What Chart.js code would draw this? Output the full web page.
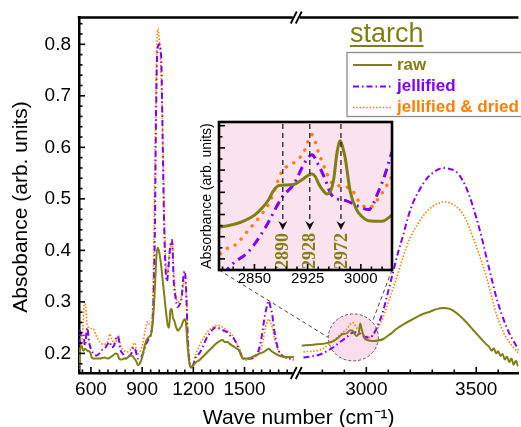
<!DOCTYPE html>
<html><head><meta charset="utf-8">
<script src="https://cdn.jsdelivr.net/npm/chart.js@4.4.0/dist/chart.umd.min.js"></script>
<style>
html,body{margin:0;padding:0;background:#fff;overflow:hidden;}
#wrap{position:relative;width:521px;height:427px;}
#main{position:absolute;left:0;top:0;}
#inset{position:absolute;left:180px;top:110px;}
</style></head><body>
<div id="wrap"><canvas id="main" width="521" height="427"></canvas><canvas id="inset" width="225" height="185"></canvas></div>
<script>
// ---------------- DATA ----------------
const seriesNames = ['raw', 'jellified', 'jellified & dried'];
const legendTitle = 'starch';
const yAxisTitle = 'Absobance (arb. units)';
const xAxisTitle = 'Wave number (cm\u207B\u00B9)';
const insetYAxisTitle = 'Absorbance (arb. units)';

// tick labels
const xLowTickLabels = [600, 900, 1200, 1500];
const xHighTickLabels = [3000, 3500];
const yTickLabels = [0.2, 0.3, 0.4, 0.5, 0.6, 0.7, 0.8];
const insetTickLabels = [2850, 2925, 3000];

// raw, 530-1800 cm-1
const rawLowWave = [530,535,545,555,565,580,594,605,613,630,652,680,700,715,729,745,755,765,778,795,808,825,837,850,865,875,885,895,905,915,924,940,953,965,975,983,990,998,1008,1018,1028,1040,1050,1058,1066,1073,1080,1090,1100,1110,1120,1130,1140,1150,1158,1165,1175,1185,1195,1215,1235,1260,1293,1315,1332,1350,1371,1385,1400,1415,1429,1450,1468,1480,1490,1510,1526,1545,1565,1590,1613,1630,1643,1655,1672,1695,1720,1750,1789];
const rawLowAbs = [0.175,0.205,0.215,0.205,0.209,0.205,0.203,0.192,0.19,0.19,0.19,0.192,0.19,0.193,0.196,0.2,0.199,0.19,0.188,0.19,0.19,0.195,0.196,0.192,0.185,0.177,0.18,0.187,0.2,0.215,0.225,0.232,0.238,0.27,0.33,0.385,0.405,0.40,0.38,0.35,0.318,0.28,0.255,0.25,0.285,0.286,0.27,0.262,0.25,0.244,0.248,0.253,0.262,0.267,0.255,0.22,0.185,0.172,0.175,0.183,0.187,0.195,0.206,0.213,0.219,0.223,0.226,0.222,0.222,0.218,0.215,0.21,0.206,0.196,0.19,0.19,0.19,0.193,0.196,0.2,0.203,0.207,0.209,0.205,0.201,0.197,0.194,0.193,0.193];

// jellified, 530-1800 cm-1
const jelLowWave = [530,536,545,555,565,578,590,604,618,633,650,662,680,700,711,720,735,745,759,770,788,808,825,837,850,862,875,890,904,920,933,950,960,967,975,980,985,990,1000,1008,1013,1020,1027,1035,1045,1055,1065,1075,1085,1095,1108,1120,1132,1142,1150,1158,1166,1175,1188,1200,1215,1235,1254,1275,1293,1315,1332,1350,1361,1380,1400,1420,1439,1455,1468,1483,1497,1520,1536,1555,1574,1590,1603,1615,1627,1642,1652,1662,1672,1681,1695,1710,1735,1759,1789];
const jelLowAbs = [0.19,0.244,0.235,0.238,0.215,0.25,0.22,0.206,0.198,0.196,0.2,0.206,0.209,0.219,0.222,0.212,0.215,0.228,0.233,0.21,0.199,0.19,0.195,0.2,0.212,0.205,0.19,0.192,0.199,0.215,0.225,0.235,0.26,0.31,0.45,0.62,0.74,0.79,0.80,0.79,0.76,0.62,0.48,0.38,0.34,0.37,0.41,0.42,0.34,0.31,0.29,0.295,0.31,0.35,0.36,0.32,0.24,0.19,0.175,0.178,0.193,0.2,0.212,0.228,0.238,0.247,0.251,0.249,0.247,0.244,0.241,0.233,0.228,0.218,0.206,0.196,0.19,0.19,0.19,0.193,0.199,0.215,0.238,0.265,0.286,0.302,0.29,0.276,0.25,0.231,0.21,0.199,0.193,0.19,0.19];

// jellified & dried, 530-1800 cm-1
const dryLowWave = [530,537,545,553,562,570,578,590,605,613,630,652,670,691,700,711,722,740,750,759,768,778,795,817,835,850,858,866,876,890,904,918,933,945,953,960,970,977,985,992,1000,1008,1015,1022,1030,1038,1048,1055,1065,1075,1085,1095,1108,1120,1135,1145,1152,1160,1168,1178,1190,1200,1215,1240,1274,1300,1332,1350,1371,1400,1429,1450,1468,1483,1497,1520,1545,1570,1594,1610,1623,1635,1642,1650,1662,1675,1691,1710,1730,1760,1789];
const dryLowAbs = [0.17,0.21,0.22,0.25,0.30,0.29,0.255,0.25,0.248,0.248,0.235,0.222,0.218,0.219,0.225,0.238,0.228,0.219,0.226,0.235,0.225,0.212,0.205,0.203,0.208,0.219,0.22,0.208,0.2,0.205,0.219,0.245,0.262,0.255,0.255,0.28,0.45,0.62,0.78,0.83,0.81,0.77,0.70,0.60,0.47,0.38,0.35,0.38,0.40,0.42,0.36,0.32,0.30,0.30,0.32,0.34,0.34,0.30,0.23,0.185,0.175,0.18,0.199,0.218,0.238,0.247,0.254,0.254,0.251,0.244,0.235,0.222,0.212,0.198,0.187,0.188,0.19,0.196,0.206,0.228,0.251,0.263,0.267,0.262,0.251,0.23,0.212,0.2,0.193,0.19,0.187];

// raw, 2700-3700 cm-1
const rawHighWave = [2706,2760,2820,2850,2865,2890,2910,2928,2940,2955,2965,2972,2980,2990,3005,3032,3055,3077,3110,3138,3175,3214,3250,3289,3320,3350,3375,3395,3425,3456,3487,3517,3545,3560,3570,3580,3590,3600,3610,3620,3630,3640,3650,3660,3670,3680,3690];
const rawHighAbs = [0.215,0.217,0.22,0.224,0.228,0.237,0.239,0.245,0.243,0.234,0.238,0.258,0.245,0.231,0.226,0.224,0.225,0.228,0.238,0.248,0.258,0.267,0.275,0.281,0.286,0.288,0.287,0.283,0.273,0.26,0.245,0.231,0.218,0.212,0.205,0.21,0.2,0.204,0.195,0.199,0.188,0.194,0.183,0.19,0.178,0.186,0.175];

// jellified, 2700-3700 cm-1
const jelHighWave = [2714,2790,2850,2880,2910,2935,2950,2972,2995,3017,3040,3055,3075,3092,3123,3145,3168,3190,3214,3245,3274,3310,3350,3380,3411,3435,3456,3480,3501,3525,3547,3570,3592,3615,3638,3655,3668,3694];
const jelHighAbs = [0.192,0.198,0.212,0.222,0.231,0.24,0.241,0.238,0.232,0.231,0.243,0.257,0.28,0.308,0.36,0.397,0.43,0.465,0.494,0.52,0.539,0.553,0.56,0.558,0.552,0.538,0.52,0.492,0.462,0.425,0.385,0.345,0.308,0.277,0.251,0.235,0.225,0.206];

// jellified & dried, 2700-3700 cm-1
const dryHighWave = [2714,2790,2850,2880,2910,2938,2955,2971,2995,3017,3040,3055,3075,3092,3115,3138,3168,3199,3235,3274,3315,3358,3395,3426,3455,3486,3515,3547,3570,3592,3610,3630,3650,3668,3694];
const dryHighAbs = [0.203,0.207,0.225,0.236,0.247,0.26,0.25,0.241,0.234,0.231,0.24,0.251,0.268,0.289,0.318,0.347,0.388,0.424,0.452,0.475,0.489,0.494,0.489,0.478,0.458,0.424,0.39,0.347,0.31,0.276,0.255,0.235,0.222,0.212,0.2];

// inset (2800-3044 cm-1, arbitrary units 0-1)
const insetRawWave = [2800,2823,2837,2851,2861,2870,2876,2884,2893,2905,2917,2926,2931,2936,2940,2947,2952,2957,2962,2966,2971,2975,2978,2985,2994,3002,3011,3030,3044];
const insetRawAbs = [0.289,0.311,0.335,0.374,0.42,0.475,0.53,0.57,0.575,0.577,0.61,0.64,0.649,0.63,0.588,0.535,0.514,0.53,0.62,0.779,0.874,0.82,0.757,0.532,0.408,0.36,0.333,0.329,0.37];
const insetJelWave = [2806,2818,2842,2865,2889,2905,2922,2931,2940,2950,2957,2964,2978,2988,2997,3011,3025,3034,3044];
const insetJelAbs = [-0.03,0.036,0.126,0.284,0.491,0.577,0.734,0.779,0.712,0.61,0.52,0.486,0.47,0.45,0.43,0.408,0.532,0.644,0.80];
const insetDryWave = [2802,2808,2823,2842,2856,2872,2889,2905,2919,2931,2940,2950,2959,2973,2987,2999,3011,3030,3044];
const insetDryAbs = [0.11,0.137,0.17,0.272,0.351,0.464,0.667,0.723,0.79,0.914,0.80,0.678,0.588,0.566,0.543,0.453,0.42,0.52,0.633];

// band markers in the inset
const insetMarkWave = [2890, 2928, 2972];
const insetMarkLabels = ['2890', '2928', '2972'];
const insetArrowTip = 0.27;

// magnifier lens (main plot, data coords)
const lensWave = 2941;
const lensAbs = 0.231;

// ---------------- STYLE ----------------
const FONT = "'Liberation Sans', Arial, Helvetica, sans-serif";
const SERIF = "'Liberation Serif', 'Times New Roman', serif";
const OLIVE = '#7f7f14', PURPLE = '#8000ff', ORANGE = '#ff8000';
Chart.defaults.font.family = FONT;
Chart.defaults.color = '#000';

function pts(xs, ys) { return xs.map((x, i) => ({x: x, y: ys[i]})); }
function makeTicks(min, max, step) {
  const out = [];
  for (let k = Math.ceil(min / step - 1e-9); k * step <= max + 1e-9; k++) out.push({value: +(k * step).toFixed(6)});
  return out;
}
function isTenth(v) { return Math.abs(v * 10 - Math.round(v * 10)) < 1e-6; }

function drawInwardTicks(chart, specs) {
  const ctx = chart.ctx;
  ctx.save();
  ctx.strokeStyle = '#000';
  ctx.setLineDash([]);
  for (const id in specs) {
    const spec = specs[id], sc = chart.scales[id];
    sc.ticks.forEach((t, i) => {
      const len = spec.isMajor(t.value, i) ? spec.major : spec.minor;
      const p = sc.getPixelForValue(t.value);
      ctx.lineWidth = spec.width;
      ctx.beginPath();
      if (sc.isHorizontal()) {
        if (p < sc.left - 0.5 || p > sc.right + 0.5) return;
        ctx.moveTo(p, sc.top); ctx.lineTo(p, sc.top - len);
      } else {
        ctx.moveTo(sc.right, p); ctx.lineTo(sc.right + len, p);
      }
      ctx.stroke();
    });
  }
  ctx.restore();
}

// ---------------- INSET ----------------
const insetDecor = {
  id: 'insetDecor',
  beforeDatasetsDraw(chart) {
    const {ctx, chartArea: a} = chart;
    ctx.save();
    ctx.fillStyle = '#fbe2ef';
    ctx.fillRect(a.left, a.top, a.right - a.left, a.bottom - a.top);
    ctx.restore();
  },
  afterDatasetsDraw(chart) {
    const {ctx, chartArea: a} = chart;
    const xs = chart.scales.x, ys = chart.scales.y;
    const tip = ys.getPixelForValue(insetArrowTip);
    insetMarkWave.forEach((w, i) => {
      const x = xs.getPixelForValue(w);
      ctx.save();
      ctx.strokeStyle = '#222'; ctx.lineWidth = 1.3; ctx.setLineDash([5, 4]);
      ctx.beginPath(); ctx.moveTo(x, a.top + 2); ctx.lineTo(x, tip - 7); ctx.stroke();
      ctx.setLineDash([]);
      ctx.fillStyle = '#111';
      ctx.beginPath(); ctx.moveTo(x - 4.5, tip - 9); ctx.lineTo(x, tip - 6); ctx.lineTo(x + 4.5, tip - 9); ctx.lineTo(x, tip); ctx.closePath(); ctx.fill();
      ctx.font = 'bold 18px ' + SERIF;
      const tw = ctx.measureText(insetMarkLabels[i]).width;
      ctx.translate(x + 1, tip + 3 + tw / 2);
      ctx.rotate(-Math.PI / 2);
      ctx.textAlign = 'center'; ctx.textBaseline = 'middle';
      ctx.fillStyle = OLIVE;
      ctx.fillText(insetMarkLabels[i], 0, 0);
      ctx.restore();
    });
  },
  afterDraw(chart) {
    const {ctx, chartArea: a} = chart;
    drawInwardTicks(chart, {
      x: {isMajor: v => insetTickLabels.includes(v), major: 6, minor: 3.5, width: 1.6},
      y: {isMajor: (v, i) => i % 2 === 0, major: 6, minor: 3.5, width: 1.6}
    });
    ctx.save();
    ctx.strokeStyle = '#000'; ctx.lineWidth = 2.6;
    ctx.strokeRect(a.left, a.top, a.right - a.left, a.bottom - a.top);
    ctx.restore();
  }
};

const insetChart = new Chart(document.getElementById('inset'), {
  type: 'line',
  data: {datasets: [
    {label: seriesNames[0], data: pts(insetRawWave, insetRawAbs), borderColor: OLIVE, borderWidth: 3, pointRadius: 0, cubicInterpolationMode: 'monotone', clip: 0},
    {label: seriesNames[1], data: pts(insetJelWave, insetJelAbs), borderColor: PURPLE, borderWidth: 3, borderDash: [9, 5, 2, 5], pointRadius: 0, cubicInterpolationMode: 'monotone', clip: 0},
    {label: seriesNames[2], data: pts(insetDryWave, insetDryAbs), borderColor: ORANGE, borderWidth: 3.4, borderDash: [0.1, 8.5], borderCapStyle: 'round', pointRadius: 0, cubicInterpolationMode: 'monotone', clip: 0}
  ]},
  options: {
    responsive: false, animation: false, devicePixelRatio: 1,
    layout: {padding: {top: 12, right: 13, left: 0, bottom: 0}},
    plugins: {legend: {display: false}, tooltip: {enabled: false}},
    scales: {
      x: {type: 'linear', min: 2800, max: 3044,
        grid: {display: false, drawTicks: false}, border: {display: false},
        afterBuildTicks: s => { s.ticks = makeTicks(2801, 3043, 15); },
        afterFit: s => { s.height = 25; },
        ticks: {autoSkip: false, maxRotation: 0, minRotation: 0, padding: 1.5, color: '#000',
          font: {family: FONT, size: 15, lineHeight: 1},
          callback: v => insetTickLabels.includes(v) ? String(v) : ''}},
      y: {type: 'linear', min: 0, max: 1,
        grid: {display: false, drawTicks: false}, border: {display: false},
        afterBuildTicks: s => { s.ticks = makeTicks(0.01, 0.99, 0.075); },
        afterFit: s => { s.width = 39; },
        ticks: {display: false},
        title: {display: true, text: insetYAxisTitle, color: '#000',
          font: {family: FONT, size: 14, lineHeight: 1}, padding: {top: 20, bottom: 0}}}
    }
  },
  plugins: [insetDecor]
});

// ---------------- MAIN ----------------
const INSET_OFFSET = {x: 180, y: 110};

const mainDecor = {
  id: 'mainDecor',
  beforeDatasetsDraw(chart) {
    const ctx = chart.ctx;
    const cx = chart.scales.xHigh.getPixelForValue(lensWave);
    const cy = chart.scales.y.getPixelForValue(lensAbs);
    const R = 25;
    const ia = insetChart.chartArea;
    const il = ia.left + INSET_OFFSET.x, ir = ia.right + INSET_OFFSET.x, ib = ia.bottom + INSET_OFFSET.y;
    ctx.save();
    ctx.strokeStyle = '#444'; ctx.lineWidth = 1; ctx.setLineDash([4, 3]);
    const ang = -40 * Math.PI / 180;
    ctx.beginPath();
    ctx.moveTo(il, ib); ctx.lineTo(cx - R, cy);
    ctx.moveTo(ir, ib); ctx.lineTo(cx + R * Math.cos(ang), cy + R * Math.sin(ang));
    ctx.stroke();
    ctx.beginPath();
    ctx.ellipse(cx, cy, R, R * 0.94, 0, 0, Math.PI * 2);
    ctx.fillStyle = 'rgba(247,212,230,0.8)';
    ctx.fill();
    ctx.setLineDash([3, 2]); ctx.strokeStyle = '#555';
    ctx.stroke();
    ctx.restore();
  },
  afterDraw(chart) {
    const {ctx, chartArea: a} = chart;
    drawInwardTicks(chart, {
      xLow: {isMajor: v => xLowTickLabels.includes(v), major: 6, minor: 3.5, width: 1.6},
      xHigh: {isMajor: v => xHighTickLabels.includes(v), major: 6, minor: 3.5, width: 1.6},
      y: {isMajor: v => isTenth(v), major: 6, minor: 3.5, width: 1.6}
    });
    ctx.save();
    // top frame
    ctx.strokeStyle = '#000'; ctx.lineWidth = 2.5;
    ctx.beginPath(); ctx.moveTo(a.left - 1.25, a.top); ctx.lineTo(a.right, a.top); ctx.stroke();
    // axis breaks
    const bx = chart.scales.xLow.right;
    [a.top, a.bottom].forEach(y => {
      ctx.fillStyle = '#fff';
      ctx.fillRect(bx - 3, y - 3, 7, 6);
      ctx.strokeStyle = '#000'; ctx.lineWidth = 1.8;
      ctx.beginPath();
      ctx.moveTo(bx - 5, y + 6); ctx.lineTo(bx + 1, y - 6);
      ctx.moveTo(bx, y + 6); ctx.lineTo(bx + 6, y - 6);
      ctx.stroke();
    });
    // y-axis title
    ctx.save();
    ctx.translate(21, 207);
    ctx.rotate(-Math.PI / 2);
    ctx.fillStyle = '#000';
    ctx.font = '21px ' + FONT;
    ctx.textAlign = 'center'; ctx.textBaseline = 'middle';
    ctx.fillText(yAxisTitle, 0, 0);
    ctx.restore();
    // legend title
    ctx.fillStyle = OLIVE;
    ctx.font = '27px ' + FONT;
    ctx.textBaseline = 'alphabetic'; ctx.textAlign = 'left';
    ctx.fillText(legendTitle, 350, 42);
    const tw = ctx.measureText(legendTitle).width;
    ctx.fillRect(350, 45, tw, 2);
    // legend box
    const lx = 347, ly = 52.5, lw = 190, lh = 64;
    ctx.fillStyle = '#fff';
    ctx.fillRect(lx, ly, lw, lh);
    ctx.strokeStyle = '#8c8c8c'; ctx.lineWidth = 1.3;
    ctx.strokeRect(lx, ly, lw, lh);
    const rows = [65, 86.5, 107.5];
    chart.data.datasets.filter(d => d.xAxisID === 'xLow').forEach((d, i) => {
      const y = rows[i];
      ctx.strokeStyle = d.borderColor; ctx.lineWidth = d.borderWidth;
      ctx.setLineDash(d.borderDash || []);
      ctx.beginPath(); ctx.moveTo(353, y); ctx.lineTo(392, y); ctx.stroke();
      ctx.setLineDash([]);
      ctx.fillStyle = d.borderColor;
      ctx.font = 'bold 17px ' + FONT;
      ctx.textBaseline = 'middle';
      ctx.fillText(d.label, 397, y);
    });
    ctx.restore();
  }
};

const STYLE_RAW = {borderColor: OLIVE, borderWidth: 2};
const STYLE_JEL = {borderColor: PURPLE, borderWidth: 2, borderDash: [6, 3, 1.5, 3]};
const STYLE_DRY = {borderColor: ORANGE, borderWidth: 1.6, borderDash: [1.5, 1.8]};
function ds(label, xs, ys, axis, style) {
  return Object.assign({label: label, data: pts(xs, ys), xAxisID: axis, yAxisID: 'y',
    pointRadius: 0, fill: false, cubicInterpolationMode: 'monotone', clip: 0}, style);
}

const xTickFont = {family: FONT, size: 19, lineHeight: 1};

new Chart(document.getElementById('main'), {
  type: 'line',
  data: {datasets: [
    ds(seriesNames[0], rawLowWave, rawLowAbs, 'xLow', STYLE_RAW),
    ds(seriesNames[1], jelLowWave, jelLowAbs, 'xLow', STYLE_JEL),
    ds(seriesNames[2], dryLowWave, dryLowAbs, 'xLow', STYLE_DRY),
    ds(seriesNames[0], rawHighWave, rawHighAbs, 'xHigh', STYLE_RAW),
    ds(seriesNames[1], jelHighWave, jelHighAbs, 'xHigh', STYLE_JEL),
    ds(seriesNames[2], dryHighWave, dryHighAbs, 'xHigh', STYLE_DRY)
  ]},
  options: {
    responsive: false, animation: false, devicePixelRatio: 1,
    layout: {padding: {top: 15, right: 0, left: 0, bottom: 0}},
    plugins: {
      legend: {display: false}, tooltip: {enabled: false},
      title: {display: true, position: 'bottom', fullSize: false, align: 'center',
        text: xAxisTitle, color: '#000',
        font: {family: FONT, size: 21, weight: 'normal', lineHeight: 0.8}, padding: {top: 0, bottom: 0.5}}
    },
    scales: {
      xLow: {type: 'linear', position: 'bottom', stack: 'wave', stackWeight: 218, min: 530, max: 1800,
        grid: {display: false, drawTicks: false}, border: {display: true, color: '#000', width: 2.5},
        afterBuildTicks: s => { s.ticks = makeTicks(540, 1760, 50); },
        afterFit: s => { s.height = 427 - 373 - 17.3; },
        ticks: {autoSkip: false, maxRotation: 0, minRotation: 0, padding: 7.5, color: '#000', font: xTickFont,
          callback: v => xLowTickLabels.includes(v) ? String(v) : ''}},
      xHigh: {type: 'linear', position: 'bottom', stack: 'wave', stackWeight: 224, min: 2679, max: 3692,
        grid: {display: false, drawTicks: false}, border: {display: true, color: '#000', width: 2.5},
        afterBuildTicks: s => { s.ticks = makeTicks(2750, 3690, 100); },
        afterFit: s => { s.height = 427 - 373 - 17.3; },
        ticks: {autoSkip: false, maxRotation: 0, minRotation: 0, padding: 7.5, color: '#000', font: xTickFont,
          callback: v => xHighTickLabels.includes(v) ? String(v) : ''}},
      y: {type: 'linear', position: 'left', min: 0.162, max: 0.852,
        grid: {display: false, drawTicks: false}, border: {display: true, color: '#000', width: 2.5},
        afterBuildTicks: s => { s.ticks = makeTicks(0.17, 0.85, 0.02); },
        afterFit: s => { s.width = 79; },
        ticks: {autoSkip: false, padding: 8, color: '#000', font: {family: FONT, size: 19, lineHeight: 1},
          callback: v => (isTenth(v) && yTickLabels.some(t => Math.abs(t - v) < 1e-6)) ? v.toFixed(1) : ''}}
    }
  },
  plugins: [mainDecor]
});
</script>
</body></html>
